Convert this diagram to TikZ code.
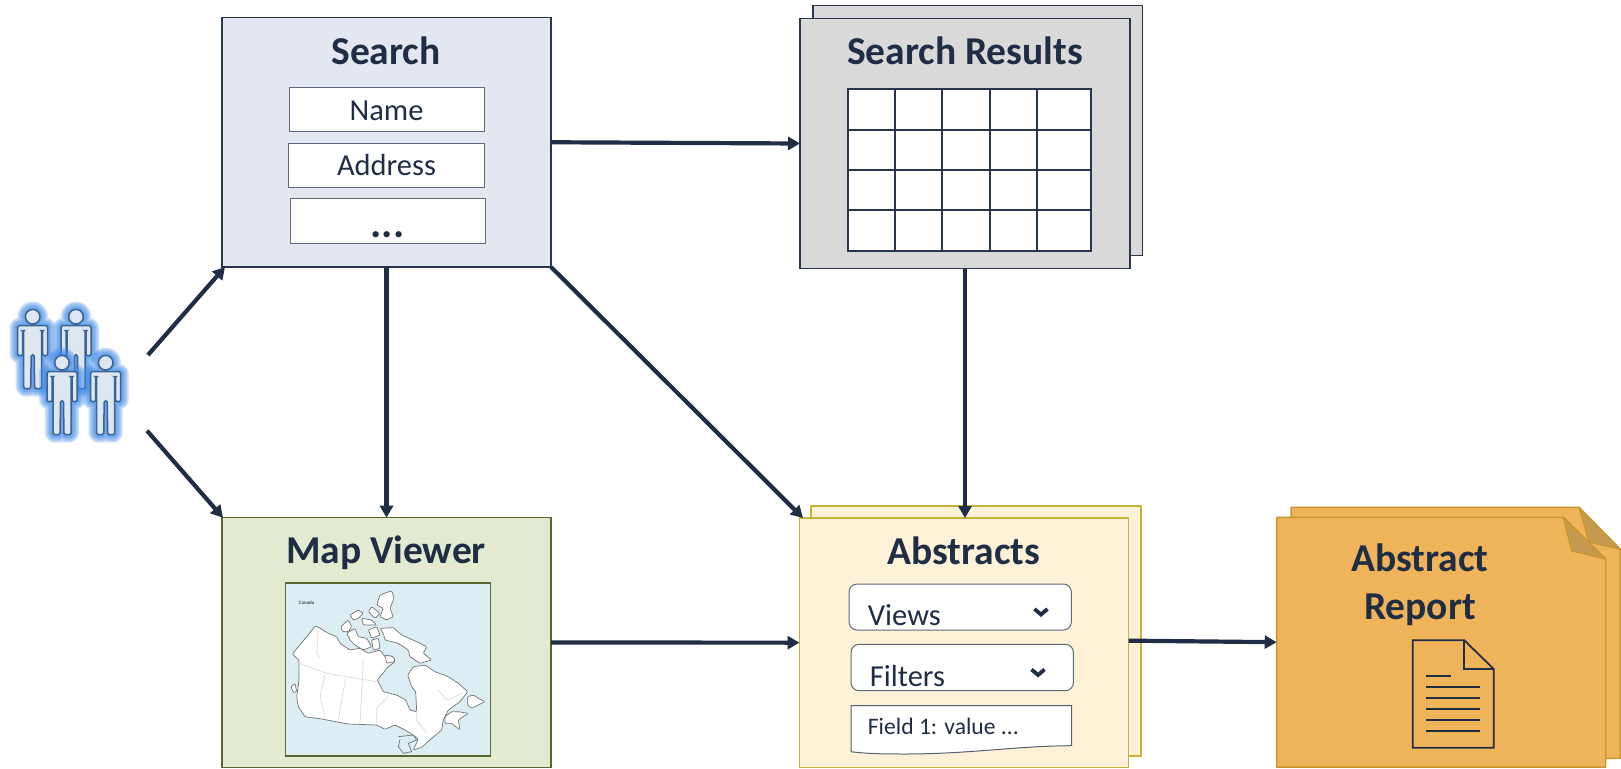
\documentclass[tikz,border=0pt]{standalone}
\usepackage{fontspec}
\setmainfont{Carlito}
\usetikzlibrary{arrows.meta}
\definecolor{ink}{HTML}{1F2D45}
\definecolor{edgeblue}{HTML}{2A3650}
\definecolor{searchfill}{HTML}{E2E7F0}
\definecolor{resfill}{HTML}{D9D9D9}
\definecolor{mapfill}{HTML}{E2EAD0}
\definecolor{mapedge}{HTML}{56682D}
\definecolor{absfill}{HTML}{FDF2D8}
\definecolor{absedge}{HTML}{C7B33C}
\definecolor{repfill}{HTML}{EFB45A}
\definecolor{repedge}{HTML}{C9952F}
\definecolor{repflap}{HTML}{C49A4E}
\definecolor{sea}{HTML}{DCEDF4}
\definecolor{glow}{HTML}{3F8BE6}
\definecolor{personfill}{HTML}{DEE6F0}
\definecolor{personedge}{HTML}{3A6496}
\tikzset{
  x=1pt,y=-1pt,
  box/.style={draw=#1,line width=1.5pt,outer sep=0pt,inner sep=0pt,rectangle},
  title/.style={font=\fontsize{39.5}{39.5}\selectfont\bfseries,text=ink,anchor=base,inner sep=0pt},
  fieldtext/.style={font=\fontsize{30.5}{30.5}\selectfont,text=ink,anchor=base,inner sep=0pt},
  inputbox/.style={draw=edgeblue!75!white,line width=1pt,fill=white,inner sep=0pt,outer sep=0pt,rectangle},
  flow/.style={draw=ink,line width=4.2pt,-{Triangle[length=12pt,width=13pt]}},
  chevron/.style={draw=ink,line width=3.8pt,line join=miter},
  land/.style={fill=white,draw=black!55,line width=.7pt,line join=round,rounded corners=1pt},
  border/.style={draw=black!14,line width=.7pt},
  docline/.style={draw=ink,line width=1.5pt},
}
\newcommand{\personpath}{
  [rounded corners=1.5pt]
  (-15,9) -- (15,9) -- (15,39) -- (10,39) -- (10,14) -- (9,14) -- (9,72) -- (2,72) -- (1.5,38)
  -- (-1.5,38) -- (-2,72) -- (-9,72) -- (-9,14) -- (-10,14) -- (-10,39) -- (-15,39) -- cycle
  (0,0) circle[radius=7.3pt]
}
\newcommand{\person}[2]{
  \begin{scope}[shift={(#1,#2)}]
    \foreach \w in {16,13,10,7,4}{
      \path[draw=glow,fill=glow,opacity=.25,line width=\w pt,line join=round] \personpath;
    }
    \path[draw=personedge,fill=personfill,line width=1.5pt] \personpath;
  \end{scope}
}
\begin{document}
\begin{tikzpicture}
\useasboundingbox (0,0) rectangle (1621,768);
\fill[white] (0,0) rectangle (1621,768);

% ---- users
\person{32.7}{316.7}
\person{76}{316.7}
\person{62}{362.7}
\person{105.7}{362.7}
\coordinate (usersup) at (148,355);
\coordinate (usersdown) at (147,430.7);

% ---- search
\node[box=edgeblue,fill=searchfill,minimum width=329pt,minimum height=249.5pt] (search) at (386.5,142.25) {};
\node[title] (searchtitle) at (386,64.5) {Search};
\node[inputbox,minimum width=195pt,minimum height=44pt] (namebox) at (386.5,109) {};
\node[fieldtext] (nametext) at (386.5,120) {Name};
\node[inputbox,minimum width=195.5pt,minimum height=44pt] (addressbox) at (386.7,165) {};
\node[fieldtext] (addresstext) at (386.5,175.5) {Address};
\node[inputbox,minimum width=195pt,minimum height=45pt] (morebox) at (387.5,220.5) {};
\node[font=\fontsize{42}{42}\selectfont\bfseries,text=ink,anchor=base,inner sep=0pt] (moretext) at (387.5,237.5) {...};

% ---- search results
\node[box=edgeblue,fill=resfill,minimum width=329.5pt,minimum height=250pt] (resultsback) at (977.5,130.7) {};
\node[box=edgeblue,fill=resfill,minimum width=330pt,minimum height=250pt] (results) at (965,143.5) {};
\node[title] (resultstitle) at (965,64.5) {Search Results};
\draw[draw=edgeblue,line width=2pt,fill=white] (847.5,89) rectangle (1090.5,250.7);
\foreach \cx in {895,942.3,989.7,1037}{\draw[draw=edgeblue,line width=2pt] (\cx,89) -- (\cx,250.7);}
\foreach \cy in {129.7,170,210}{\draw[draw=edgeblue,line width=2pt] (847.5,\cy) -- (1090.5,\cy);}

% ---- map viewer
\node[box=mapedge,fill=mapfill,minimum width=329pt,minimum height=249.6pt] (map) at (386.5,642.5) {};
\node[title] (maptitle) at (386,563) {Map Viewer};
\node[draw=mapedge,line width=1.5pt,fill=sea,minimum width=205pt,minimum height=173.3pt,inner sep=0pt,outer sep=0pt] (mapimage) at (388.2,669.4) {};
% mainland
\path[land] (315.7,625.7) -- (328.3,633.3) -- (336.7,636.7) -- (340,643.3) -- (350,650) -- (360,648.3) -- (368.3,653.3) -- (380,650) -- (385,656.7) -- (391.7,655.7) -- (395,661.7) -- (388.3,666.7) -- (377.3,680) -- (383.3,691.7) -- (396.7,695) -- (405.7,700) -- (410,710) -- (416.7,711.7) -- (415.7,691.7) -- (411.7,686.7) -- (407.7,675) -- (413.3,666.7) -- (425,665) -- (435,671.7) -- (448.3,676.7) -- (458.3,683.3) -- (467.7,691.7) -- (460,701.7) -- (448.3,710) -- (443.3,720) -- (441.7,730) -- (431.7,738.3) -- (421.7,747.3) -- (413.3,750) -- (418.3,739.3) -- (413.3,735) -- (405,730) -- (395,725) -- (385,729.3) -- (376.7,725) -- (348.3,724) -- (321.7,719) -- (305,716.7) -- (298.3,706.7) -- (296.7,696.7) -- (299,680) -- (299,660) -- (292.3,654) -- cycle;
% arctic islands
\begin{scope}[shift={(330,585)},x=.3333pt,y=-.3333pt]
  \path[land] (150,30) -- (185,17) -- (192,40) -- (180,70) -- (190,95) -- (170,105) -- (150,95) -- (160,70) -- (140,60) -- cycle;
  \path[land] (125,65) -- (150,85) -- (135,100) -- (115,80) -- cycle;
  \path[land] (60,90) -- (85,75) -- (100,85) -- (85,100) -- (70,105) -- cycle;
  \path[land] (95,100) -- (125,105) -- (140,120) -- (100,120) -- cycle;
  \path[land] (32,125) -- (55,105) -- (65,125) -- (55,140) -- (38,140) -- cycle;
  \path[land] (50,145) -- (75,130) -- (85,155) -- (110,160) -- (125,185) -- (100,195) -- (75,180) -- (60,165) -- cycle;
  \path[land] (115,135) -- (140,125) -- (150,150) -- (125,160) -- cycle;
  \path[land] (150,130) -- (190,128) -- (215,150) -- (260,170) -- (290,185) -- (280,205) -- (305,225) -- (270,235) -- (240,215) -- (235,195) -- (205,175) -- (165,165) -- (160,145) -- cycle;
  \path[land] (165,210) -- (190,215) -- (195,230) -- (170,235) -- cycle;
  \path[land] (125,165) -- (145,160) -- (150,190) -- (130,195) -- cycle;
\end{scope}
% south-side islands and lakes
\begin{scope}[shift={(285,660)},x=.3333pt,y=-.3333pt]
  \path[land] (548,110) -- (565,105) -- (580,115) -- (600,125) -- (580,135) -- (560,145) -- (548,135) -- cycle;
  \path[land] (18,80) -- (30,70) -- (35,95) -- (25,98) -- cycle;
  \path[land] (480,170) -- (500,155) -- (520,155) -- (550,160) -- (520,180) -- (525,210) -- (500,190) -- (480,190) -- cycle;
  \path[draw=black!55,line width=.7pt,line join=round] (340,230) -- (385,225) -- (395,240) -- (370,250) -- (380,275) -- (355,280) -- (340,260) -- (345,238);
\end{scope}
% provincial borders and the map's own label
\begin{scope}[shift={(200,500)},x=.3333pt,y=-.3333pt]
  \path[border] (355,390) -- (350,460) -- (360,475);
  \path[border] (298,490) -- (380,520) -- (530,545);
  \path[border] (490,480) -- (487,540) -- (480,670);
  \path[border] (375,525) -- (360,590) -- (375,650);
  \path[border] (437,535) -- (415,660);
  \path[border] (565,590) -- (530,625) -- (530,670);
  \path[border] (650,635) -- (650,660) -- (680,700);
  \path[border] (715,570) -- (740,600) -- (790,580);
  \node[font=\fontsize{5}{5}\selectfont\bfseries,text=black!70,inner sep=0pt] (canada) at (320,307) {Canada};
\end{scope}

% ---- abstracts
\node[draw=absedge,line width=1.5pt,fill=absfill,minimum width=329.7pt,minimum height=250pt,inner sep=0pt,outer sep=0pt] (abstractsback) at (975.9,631) {};
\node[draw=absedge,line width=1.5pt,fill=absfill,minimum width=329.2pt,minimum height=249.3pt,inner sep=0pt,outer sep=0pt] (abstracts) at (964.1,642.65) {};
\node[title] (abstractstitle) at (964,564) {Abstracts};
\node[inputbox,rounded corners=8pt,minimum width=222.3pt,minimum height=46pt] (viewsbox) at (960.2,607) {};
\node[fieldtext,anchor=base west] (viewstext) at (867.7,625) {Views};
\node[inputbox,rounded corners=8pt,minimum width=222.3pt,minimum height=46.4pt] (filtersbox) at (962.2,667.5) {};
\node[fieldtext,anchor=base west] (filterstext) at (869.7,686) {Filters};
\draw[chevron] (1034.5,609) -- (1041,614.5) -- (1047.5,609);
\draw[chevron] (1031.5,669.5) -- (1038,675) -- (1044.5,669.5);
\draw[draw=edgeblue!80!white,line width=1pt,fill=white] (851,705.7) -- (1071.7,705.7) -- (1071.7,745.7)
  .. controls (1015,746) and (970,754) .. (905,754) .. controls (880,754) and (865,753.5) .. (851,751.7) -- cycle;
\node[font=\fontsize{23.6}{23.6}\selectfont,text=ink,anchor=base west,inner sep=0pt] (fieldtext1) at (867.7,734) {Field 1: value ...};

% ---- abstract report
\draw[fill=repfill,draw=repedge,line width=1.5pt,line join=round] (1291,507.3) -- (1579,507.3) -- (1620.3,549.3) -- (1620.3,758.3) -- (1291,758.3) -- cycle;
\draw[fill=repflap,draw=repedge,line width=1.2pt,line join=round] (1579,507.3) -- (1589,542.3) -- (1620.3,549.3) -- cycle;
\draw[fill=repfill,draw=repedge,line width=1.5pt,line join=round] (1276.7,517.3) -- (1563.3,517.3) -- (1605.7,559) -- (1605.7,767) -- (1276.7,767) -- cycle;
\draw[fill=repflap,draw=repedge,line width=1.2pt,line join=round] (1563.3,517.3) -- (1571.7,551) -- (1605.7,559) -- cycle;
\node[inner sep=0pt,outer sep=0pt,minimum width=329pt,minimum height=250pt] (report) at (1441.2,642.2) {};
\node[title] (reporttitle1) at (1420,571) {Abstract};
\node[title] (reporttitle2) at (1420,619) {Report};
\draw[draw=ink,line width=1.8pt,line join=miter] (1412.7,640.3) -- (1464.3,640.3) -- (1493.7,669) -- (1493.7,747.7) -- (1412.7,747.7) -- cycle;
\draw[draw=ink,line width=1.8pt] (1464.3,640.3) -- (1464.3,669) -- (1493.7,669);
\draw[docline] (1426,676) -- (1451,676);
\foreach \ly in {687,698,709,720,731}{\draw[docline] (1426,\ly) -- (1480.3,\ly);}

% ---- connectors
\draw[flow] (usersup) -- ([xshift=3pt]search.south west);
\draw[flow] (usersdown) -- ([xshift=1pt]map.north west);
\draw[flow] (search.south) -- (map.north);
\draw[flow] (search.south east) -- ([xshift=3.5pt]abstracts.north west);
\draw[flow] (search.east) -- (results.west);
\draw[flow] (results.south) -- (results.south |- abstracts.north);
\draw[flow] (map.east) -- (abstracts.west);
\draw[flow] ([yshift=2pt]abstracts.east) -- (report.west);
\end{tikzpicture}
\end{document}
